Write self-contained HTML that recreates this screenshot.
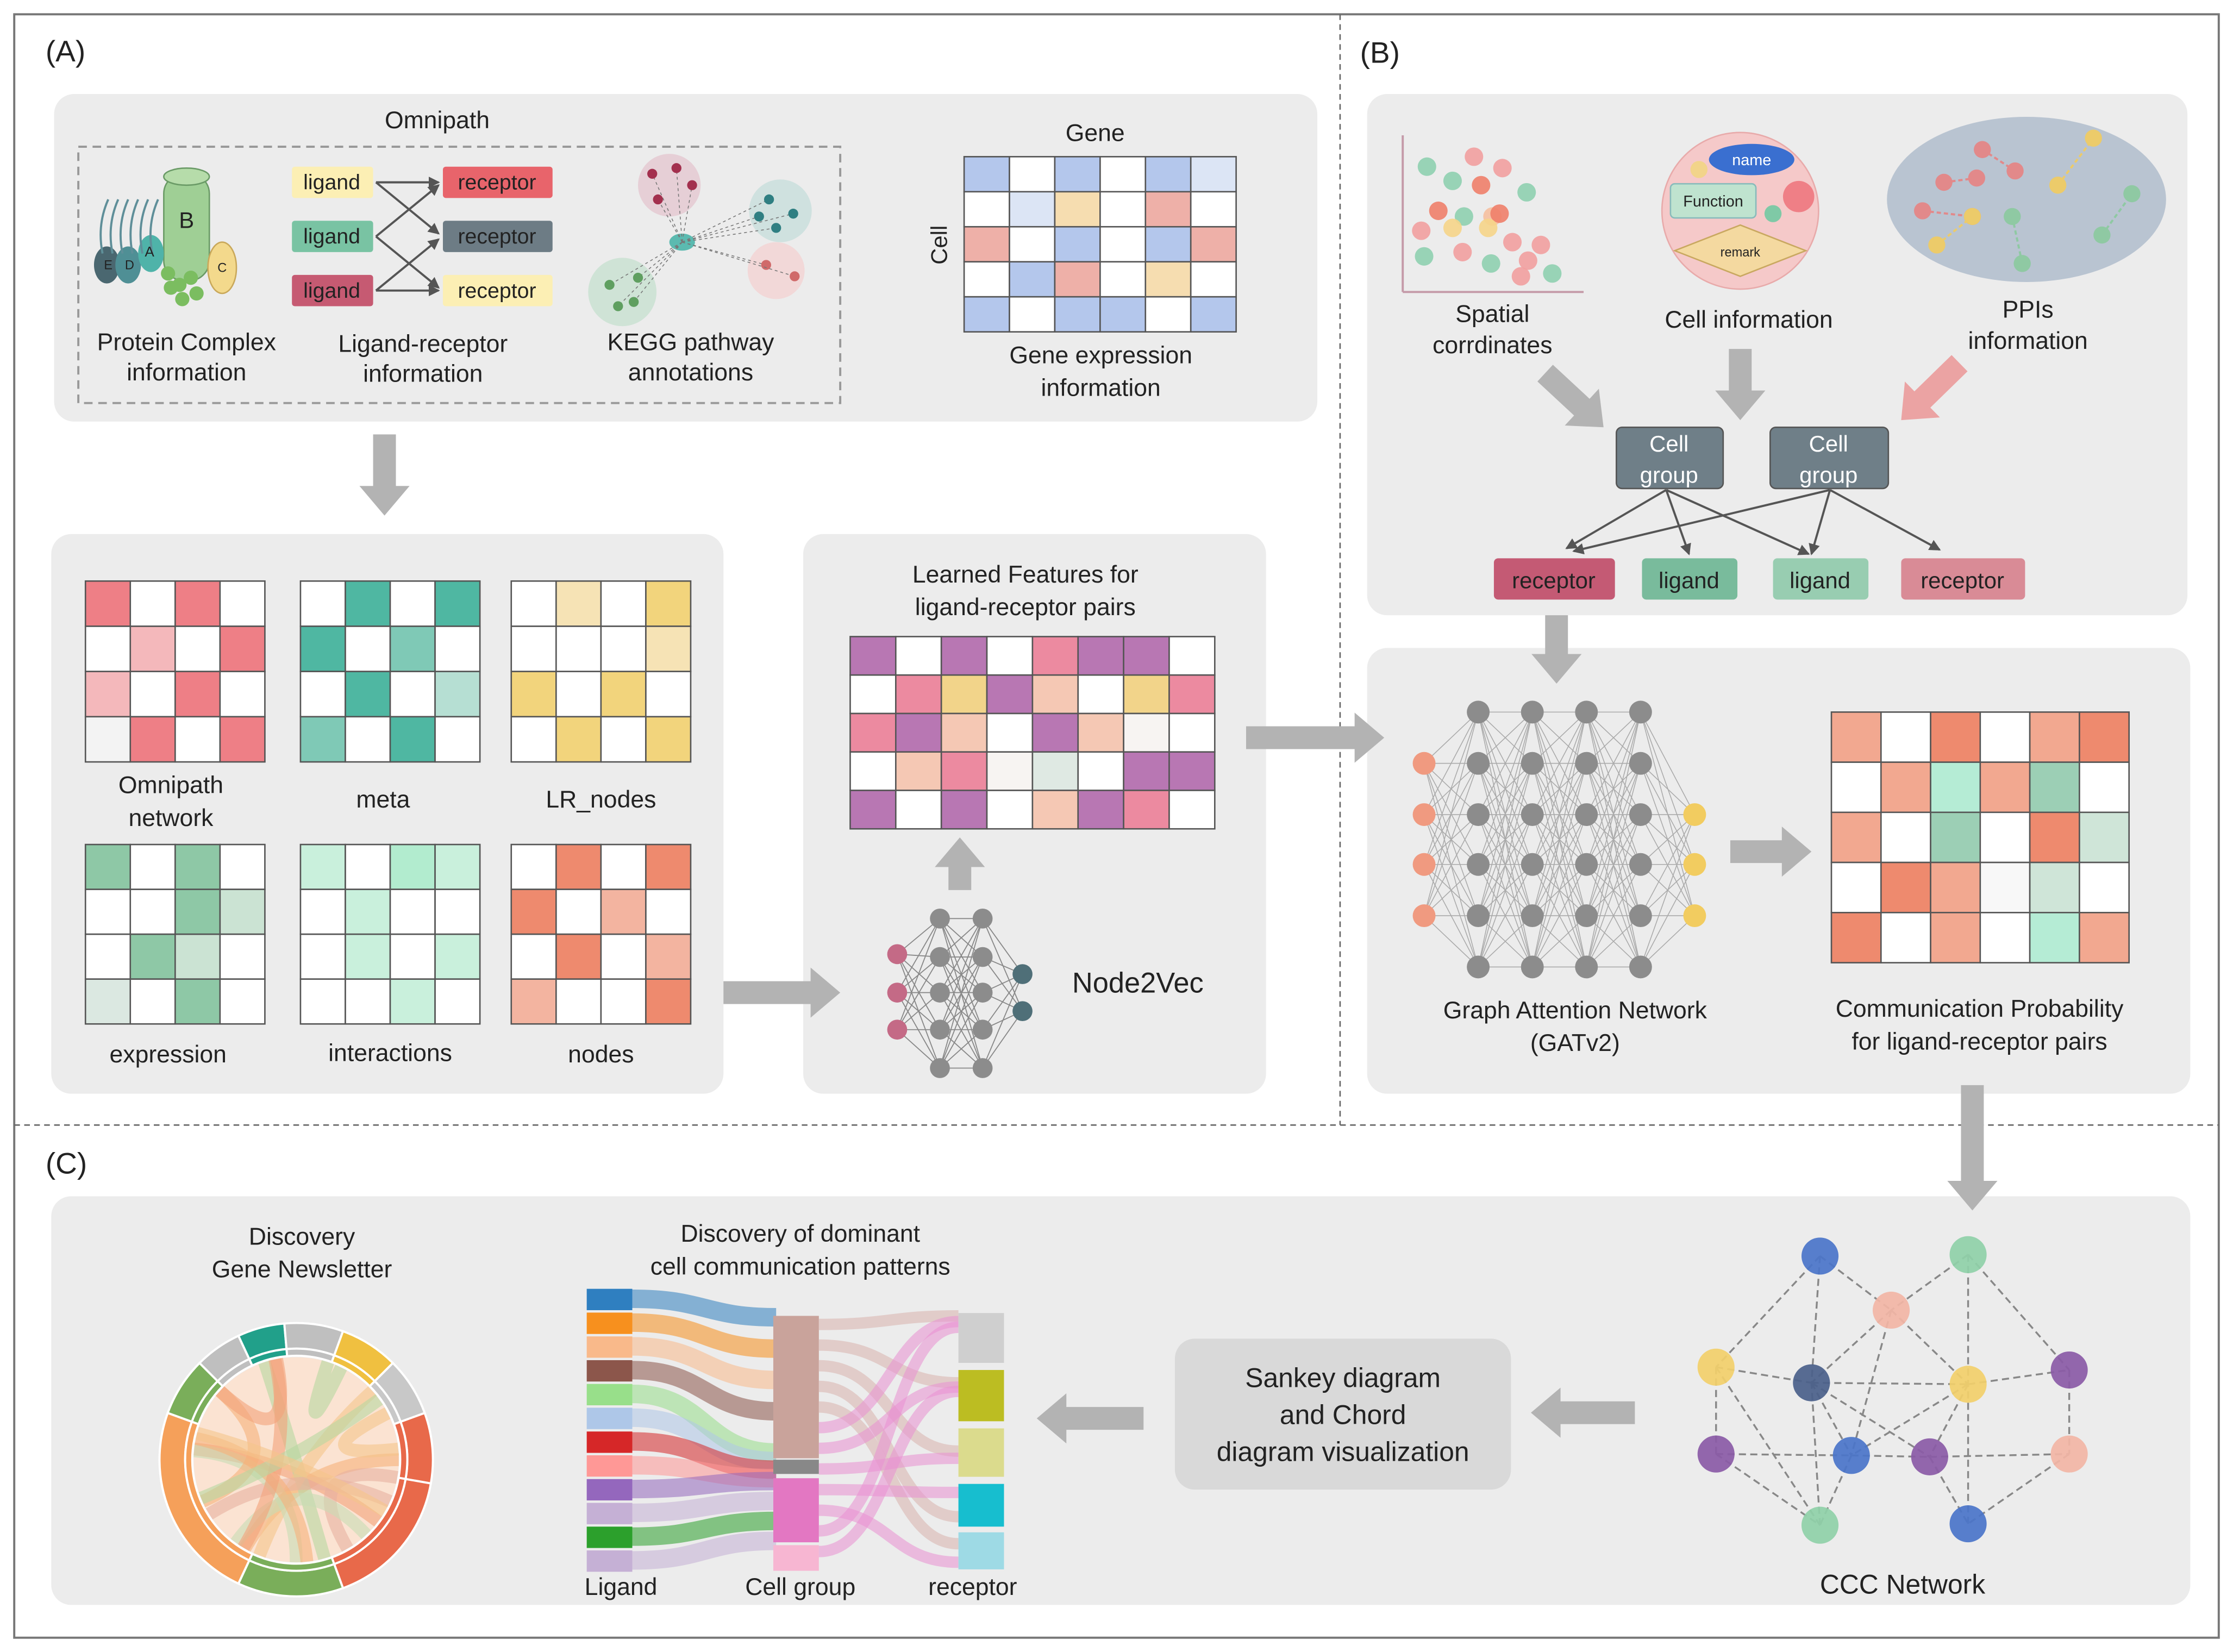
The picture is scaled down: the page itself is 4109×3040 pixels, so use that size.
<!DOCTYPE html>
<html><head><meta charset="utf-8"><style>
html,body{margin:0;padding:0;background:#fff}
svg{display:block}
text{font-family:"Liberation Sans",sans-serif;fill:#222}
</style></head><body>
<svg id="s" width="4109" height="3040" viewBox="0 0 1568 1160" xmlns="http://www.w3.org/2000/svg">
<defs>
<marker id="ah" markerWidth="8" markerHeight="8" refX="7" refY="4" orient="auto" markerUnits="userSpaceOnUse"><path d="M0,0 L8,4 L0,8 z" fill="#555"/></marker>
</defs>
<rect x="0" y="0" width="1568" height="1160" fill="#fff"/>
<rect x="10" y="10" width="1548" height="1140" fill="none" stroke="#777" stroke-width="1.5"/>
<line x1="941" y1="10" x2="941" y2="790" stroke="#666" stroke-dasharray="4,3"/>
<line x1="10" y1="790" x2="1558" y2="790" stroke="#666" stroke-dasharray="4,3"/>
<!-- boxes -->
<rect x="38" y="66" width="887" height="230" rx="14" fill="#ececec"/>
<rect x="36" y="375" width="472" height="393" rx="14" fill="#ececec"/>
<rect x="564" y="375" width="325" height="393" rx="14" fill="#ececec"/>
<rect x="960" y="66" width="576" height="366" rx="14" fill="#ececec"/>
<rect x="960" y="455" width="578" height="313" rx="14" fill="#ececec"/>
<rect x="36" y="840" width="1502" height="287" rx="14" fill="#ececec"/>
<rect x="55" y="103" width="535" height="180" fill="none" stroke="#999" stroke-width="1.5" stroke-dasharray="6,4"/>
<g id="g"></g>
<!-- text -->
<g font-size="21">
<text x="32" y="43">(A)</text><text x="955" y="44">(B)</text><text x="32" y="824">(C)</text>
</g>
<g font-size="17" text-anchor="middle">
<text x="307" y="90">Omnipath</text>
<text x="131" y="246">Protein Complex</text><text x="131" y="267">information</text>
<text x="297" y="247">Ligand-receptor</text><text x="297" y="268">information</text>
<text x="485" y="246">KEGG pathway</text><text x="485" y="267">annotations</text>
<text x="769" y="99">Gene</text>
<text x="773" y="255">Gene expression</text><text x="773" y="278">information</text>
<text x="120" y="557">Omnipath</text><text x="120" y="580">network</text>
<text x="269" y="567">meta</text><text x="422" y="567">LR_nodes</text>
<text x="118" y="746">expression</text><text x="274" y="745">interactions</text><text x="422" y="746">nodes</text>
<text x="720" y="409">Learned Features for</text><text x="720" y="432">ligand-receptor pairs</text>
<text x="1048" y="226">Spatial</text><text x="1048" y="248">corrdinates</text>
<text x="1228" y="230">Cell information</text>
<text x="1424" y="223">PPIs</text><text x="1424" y="245">information</text>
<text x="1106" y="715">Graph Attention Network</text><text x="1106" y="738">(GATv2)</text>
<text x="1390" y="714">Communication Probability</text><text x="1390" y="737">for ligand-receptor pairs</text>
<text x="212" y="874">Discovery</text><text x="212" y="897">Gene Newsletter</text>
<text x="562" y="872">Discovery of dominant</text><text x="562" y="895">cell communication patterns</text>
<text x="436" y="1120">Ligand</text><text x="562" y="1120">Cell group</text><text x="683" y="1120">receptor</text>
<text x="1336" y="1119" font-size="19">CCC Network</text>
</g>
<text x="799" y="697" font-size="20" text-anchor="middle">Node2Vec</text>
<text x="665" y="172" font-size="16" text-anchor="middle" transform="rotate(-90 665 172)">Cell</text>
<rect x="825" y="940" width="236" height="106" rx="14" fill="#d9d9d9"/>
<g font-size="19" text-anchor="middle"><text x="943" y="974">Sankey diagram</text><text x="943" y="1000">and Chord</text><text x="943" y="1026">diagram visualization</text></g>
<!-- cell groups and labels -->
<rect x="1135" y="300" width="75" height="43" rx="4" fill="#6f7f88" stroke="#555"/>
<rect x="1243" y="300" width="83" height="43" rx="4" fill="#6f7f88" stroke="#555"/>
<g font-size="16" text-anchor="middle" style="fill:#fff"><text x="1172" y="317" style="fill:#fff">Cell</text><text x="1172" y="339" style="fill:#fff">group</text><text x="1284" y="317" style="fill:#fff">Cell</text><text x="1284" y="339" style="fill:#fff">group</text></g>
<rect x="1049" y="392" width="85" height="29" rx="3" fill="#c45a74"/>
<rect x="1153" y="392" width="67" height="29" rx="3" fill="#79bb9c"/>
<rect x="1245" y="392" width="67" height="29" rx="3" fill="#98cdb1"/>
<rect x="1335" y="392" width="87" height="29" rx="3" fill="#d98b96"/>
<g font-size="16" text-anchor="middle"><text x="1091" y="413">receptor</text><text x="1186" y="413">ligand</text><text x="1278" y="413">ligand</text><text x="1378" y="413">receptor</text></g>
<g stroke="#555" stroke-width="1.5" marker-end="url(#ah)">
<line x1="1170" y1="344" x2="1100" y2="385"/><line x1="1170" y1="344" x2="1186" y2="389"/><line x1="1170" y1="344" x2="1270" y2="389"/>
<line x1="1285" y1="344" x2="1105" y2="387"/><line x1="1285" y1="344" x2="1272" y2="389"/><line x1="1285" y1="344" x2="1362" y2="386"/>
</g>
<!-- LR info -->
<rect x="205" y="117" width="57" height="22" rx="2" fill="#fcefb4"/>
<rect x="205" y="155" width="57" height="22" rx="2" fill="#79c3a3"/>
<rect x="205" y="193" width="57" height="22" rx="2" fill="#c65a72"/>
<rect x="311" y="117" width="77" height="22" rx="2" fill="#e8646b"/>
<rect x="311" y="155" width="77" height="22" rx="2" fill="#6d7c85"/>
<rect x="311" y="193" width="77" height="22" rx="2" fill="#fcefb4"/>
<g font-size="15" text-anchor="middle"><text x="233" y="133">ligand</text><text x="233" y="171">ligand</text><text x="233" y="209">ligand</text>
<text x="349" y="133">receptor</text><text x="349" y="171">receptor</text><text x="349" y="209">receptor</text></g>
<g stroke="#555" stroke-width="1.5" marker-end="url(#ah)">
<line x1="264" y1="128" x2="308" y2="128"/><line x1="264" y1="128" x2="308" y2="164"/>
<line x1="264" y1="166" x2="308" y2="130"/><line x1="264" y1="166" x2="308" y2="202"/>
<line x1="264" y1="204" x2="308" y2="168"/><line x1="264" y1="204" x2="308" y2="204"/>
</g>
<!-- Sankey label -->
</svg>
<script>
var NS="http://www.w3.org/2000/svg",G=document.getElementById("g");
function el(t,a){var e=document.createElementNS(NS,t);for(var k in a)e.setAttribute(k,a[k]);G.appendChild(e);return e;}
function grid(x,y,w,h,rows,C){var r=rows.length,c=rows[0].length,cw=w/c,ch=h/r;
 for(var i=0;i<r;i++)for(var j=0;j<c;j++)el("rect",{x:x+j*cw,y:y+i*ch,width:cw,height:ch,fill:C[rows[i][j]]||"#fff",stroke:"#555","stroke-width":1});}
function arrow(x1,y1,x2,y2,col,w){col=col||"#b3b3b3";w=w||16;var dx=x2-x1,dy=y2-y1,L=Math.hypot(dx,dy),ux=dx/L,uy=dy/L,px=-uy,py=ux,hl=w*1.3,hw=w*1.1;
 var bx=x2-ux*hl,by=y2-uy*hl,s=w/2;
 el("polygon",{points:[[x1+px*s,y1+py*s],[bx+px*s,by+py*s],[bx+px*hw,by+py*hw],[x2,y2],[bx-px*hw,by-py*hw],[bx-px*s,by-py*s],[x1-px*s,y1-py*s]].map(p=>p.join(",")).join(" "),fill:col});}
var C={R:"#ee7f86",P:"#f4b8bb",g:"#f3f3f3",T:"#4fb7a2",L:"#7fc9b6",S:"#b6dfd3",Y:"#f2d47c",y:"#f6e3b5",E:"#8ec8a6",e:"#cbe3d3",f:"#dbe8e1",I:"#c9f0dc",i:"#b2eccf",O:"#ee8a6e",o:"#f3b4a0"};
grid(60,408,126,127,["RWRW","WPWR","PWRW","gRWR"],C);
grid(211,408,126,127,["WTWT","TWLW","WTWS","LWTW"],C);
grid(359,408,126,127,["WyWY","WWWy","YWYW","WYWY"],C);
grid(60,593,126,126,["EWEW","WWEe","WEeW","fWEW"],C);
grid(211,593,126,126,["IWiI","WIWW","WIWI","WWIW"],C);
grid(359,593,126,126,["WOWO","OWoW","WOWo","oWWO"],C);
grid(677,110,191,123,["BWBWBp","WpYWkW","kWBWBk","WBkWYW","BWBBWB"],{B:"#b4c7ec",p:"#dce5f5",Y:"#f6ddb0",k:"#eeb0a8"});
grid(597,447,256,135,["UWUWKUUW","WKYUeWYK","KUeWUeGW","WeKGgWUU","UWUWeUKW"],{U:"#b877b3",K:"#ec8aa0",e:"#f5c8b4",Y:"#f2d48a",G:"#f7f4f2",g:"#dfe9e3"});
grid(1286,500,209,176,["SWOWSO","WSMSTW","SWTWOt","WOSGtW","OWSWMS"],{S:"#f2a890",O:"#ee8a6e",M:"#b5ecd5",T:"#9ccfb5",t:"#cfe5d8",G:"#f8f8f8"});
// arrows
arrow(270,305,270,362);arrow(508,697,590,697);arrow(674,625,674,588);arrow(875,518,972,518);
arrow(1215,598,1272,598);arrow(1385,762,1385,850);arrow(1093,432,1093,480);
arrow(1085,262,1126,300);arrow(1222,245,1222,295);arrow(1376,255,1335,295,"#eba3a3");
arrow(803,996,728,996);arrow(1148,992,1075,992);
// neural net B
var xs=[1000,1038,1076,1114,1152,1190],L=[];
for(var k=0;k<6;k++){var ys=k==0?[536,572,607,643]:k==5?[572,607,643]:[500,536,572,607,643,679];L.push(ys);}
for(var k=0;k<5;k++)L[k].forEach(a=>L[k+1].forEach(b=>el("line",{x1:xs[k],y1:a,x2:xs[k+1],y2:b,stroke:"#aaa","stroke-width":0.6})));
L.forEach((ys,k)=>ys.forEach(y=>el("circle",{cx:xs[k],cy:y,r:8,fill:k==0?"#f09a80":k==5?"#f2cc60":"#8c8c8c"})));
// node2vec
var nx=[630,660,690,718],N=[[670,697,723],[645,672,697,723,750],[645,672,697,723,750],[684,710]];
for(var k=0;k<3;k++)N[k].forEach(a=>N[k+1].forEach(b=>el("line",{x1:nx[k],y1:a,x2:nx[k+1],y2:b,stroke:"#888","stroke-width":0.7})));
N.forEach((ys,k)=>ys.forEach(y=>el("circle",{cx:nx[k],cy:y,r:7,fill:k==0?"#c46a86":k==3?"#4f6f78":"#8c8c8c"})));
// protein complex
el("rect",{x:115,y:122,width:32,height:75,rx:14,fill:"#9fcf95",stroke:"#6a9a66"});
el("ellipse",{cx:131,cy:124,rx:16,ry:6,fill:"#b6dcaa",stroke:"#6a9a66"});
el("ellipse",{cx:156,cy:188,rx:10,ry:18,fill:"#f3d98c",stroke:"#c9a85a"});
[[75,186,"#4a6770"],[90,186,"#4f8f95"],[106,178,"#4fb3a9"]].forEach(p=>el("ellipse",{cx:p[0],cy:p[1],rx:9,ry:13,fill:p[2]}));
[[118,192],[126,200],[134,195],[128,210],[138,206],[120,202]].forEach(p=>el("circle",{cx:p[0],cy:p[1],r:5,fill:"#7bbd60"}));
for(var i=0;i<6;i++)el("path",{d:"M"+(72+i*7)+",178 q-4,-20 4,-38",stroke:"#5f8f99",fill:"none","stroke-width":1.5});
var t=[[131,160,"B",16],[105,180,"A",10],[91,189,"D",9],[76,189,"E",9],[156,191,"C",9]];
t.forEach(a=>{var e=el("text",{x:a[0],y:a[1],"font-size":a[3],"text-anchor":"middle"});e.textContent=a[2];});
// KEGG
el("circle",{cx:470,cy:130,r:22,fill:"#e6cfd6"});el("circle",{cx:548,cy:148,r:22,fill:"#cfe1df"});
el("circle",{cx:437,cy:205,r:24,fill:"#cfe3d6"});el("circle",{cx:545,cy:190,r:20,fill:"#f2d8d8"});
el("ellipse",{cx:479,cy:170,rx:9,ry:6,fill:"#5bbab0"});
[[458,122,"#a3304e"],[475,118,"#a3304e"],[486,130,"#a3304e"],[462,140,"#a3304e"],[540,140,"#2f7f82"],[557,150,"#2f7f82"],[545,160,"#2f7f82"],[533,152,"#2f7f82"],[428,200,"#5f9f60"],[445,212,"#5f9f60"],[434,215,"#5f9f60"],[448,195,"#5f9f60"],[538,186,"#d06a6a"],[558,194,"#d06a6a"]].forEach(p=>{el("line",{x1:479,y1:170,x2:p[0],y2:p[1],stroke:"#777","stroke-width":0.6,"stroke-dasharray":"2,2"});el("circle",{cx:p[0],cy:p[1],r:3.5,fill:p[2]});});
// scatter
el("line",{x1:985,y1:205,x2:985,y2:95,stroke:"#c49aa8","stroke-width":1.5});el("line",{x1:985,y1:205,x2:1112,y2:205,stroke:"#c49aa8","stroke-width":1.5});
[[1002,117,"#8fd0b0"],[1020,127,"#8fd0b0"],[1035,110,"#f2a0a0"],[1055,118,"#f2a0a0"],[1040,130,"#ef7f6a"],[1072,135,"#8fd0b0"],[1010,148,"#f07f6a"],[1028,152,"#8fd0b0"],[1048,152,"#f6c0a0"],[1053,150,"#ef7f6a"],[1045,160,"#f6d58a"],[998,162,"#f2a0a0"],[1020,160,"#f6d58a"],[1062,170,"#f2a0a0"],[1082,172,"#f2a0a0"],[1000,180,"#8fd0b0"],[1027,177,"#f2a0a0"],[1047,185,"#8fd0b0"],[1073,183,"#f2a0a0"],[1090,192,"#8fd0b0"],[1068,194,"#f2a0a0"]].forEach(p=>el("circle",{cx:p[0],cy:p[1],r:6.5,fill:p[2],opacity:0.9}));
// cell info
el("circle",{cx:1222,cy:148,r:55,fill:"#f5c9c9",stroke:"#e8aaaa"});
el("ellipse",{cx:1230,cy:112,rx:30,ry:11,fill:"#3a6fd0"});
el("rect",{x:1173,y:129,width:60,height:24,rx:3,fill:"#bfe3cf",stroke:"#8bb"});
el("polygon",{points:"1222,158 1268,176 1222,194 1176,176",fill:"#f4d9a0",stroke:"#c9a860"});
el("circle",{cx:1193,cy:119,r:6,fill:"#f2d48a"});el("circle",{cx:1263,cy:138,r:11,fill:"#ef7f86"});el("circle",{cx:1245,cy:150,r:6,fill:"#7fc9a6"});
[[1230,116,"name",11,"#fff"],[1203,145,"Function",11,"#222"],[1222,180,"remark",9,"#222"]].forEach(a=>{var e=el("text",{x:a[1-1+0]===0?0:a[0],y:a[1],"font-size":a[3],"text-anchor":"middle",style:"fill:"+a[4]});e.textContent=a[2];});
// PPIs
el("ellipse",{cx:1423,cy:140,rx:98,ry:58,fill:"#b9c4d1"});
[[1350,148,1385,152,"#e2898a"],[1392,105,1415,120,"#e2898a"],[1388,125,1365,128,"#e2898a"],[1445,130,1470,97,"#eccb6a"],[1413,152,1420,185,"#8fc9a3"],[1476,165,1497,136,"#8fc9a3"],[1360,172,1385,152,"#eccb6a"]].forEach(p=>{el("line",{x1:p[0],y1:p[1],x2:p[2],y2:p[3],stroke:p[4],"stroke-width":1.5,"stroke-dasharray":"3,2"});el("circle",{cx:p[0],cy:p[1],r:6,fill:p[4]});el("circle",{cx:p[2],cy:p[3],r:6,fill:p[4]});});
// chord
var cx=208,cy=1025;
function arc(a0,a1,r0,r1,col){var f=a=>[cx+Math.cos(a*Math.PI/180)*1,cy+Math.sin(a*Math.PI/180)*1];
 var p=(a,r)=>(cx+r*Math.cos(a*Math.PI/180))+","+(cy+r*Math.sin(a*Math.PI/180));var lg=(a1-a0)>180?1:0;
 el("path",{d:"M"+p(a0,r1)+" A"+r1+","+r1+" 0 "+lg+" 1 "+p(a1,r1)+" L"+p(a1,r0)+" A"+r0+","+r0+" 0 "+lg+" 0 "+p(a0,r0)+"Z",fill:col,stroke:"#fff","stroke-width":1.5});}
var segs=[[-20,10,"#e8694a"],[10,70,"#e8694a"],[70,115,"#7aae5a"],[115,200,"#f5a05a"],[200,225,"#7aae5a"],[225,245,"#bfbfbf"],[245,265,"#21a08a"],[265,290,"#bfbfbf"],[290,315,"#f0c040"],[315,340,"#c8c8c8"]];
segs.forEach(s=>arc(s[0],s[1],78,96,s[2]));
segs.forEach(s=>arc(s[0],s[1],73,78,s[2]));
el("circle",{cx:cx,cy:cy,r:72,fill:"#fbe3d2"});
var pal=["#f6b07a","#f3a27a","#b7d7a0","#f5c48a","#e7b0a0","#c8dcb4"];
for(var i=0;i<16;i++){var a=i*37%360,b=(a+120+i*29)%360,r=72,P=(x)=>(cx+r*Math.cos(x*Math.PI/180))+","+(cy+r*Math.sin(x*Math.PI/180));
 el("path",{d:"M"+P(a)+" Q"+cx+","+cy+" "+P(b),stroke:pal[i%6],"stroke-width":9,fill:"none",opacity:0.6});}
// sankey
var lc=["#2f7fc0","#f7901e","#f9b98a","#8c564b","#98df8a","#aec7e8","#d62728","#ff9896","#9467bd","#c5b0d5","#2ca02c","#c5b0d5"];
var rc=[["#cfcfcf",922,957],["#bcbd22",962,998],["#dbdb8d",1003,1037],["#17becf",1042,1072],["#9edae5",1076,1102]];
var lh=17,ly=905;
lc.forEach((c,i)=>{var y=ly+i*16.7;el("rect",{x:412,y:y,width:32,height:15,fill:c});
 var ty=i<4?925+i*22:i<8?1020+(i-4)*6:1040+(i-8)*14;
 el("path",{d:"M444,"+(y+7)+" C495,"+(y+7)+" 495,"+ty+" 545,"+ty,stroke:c,"stroke-width":13,fill:"none",opacity:0.55});});
el("rect",{x:543,y:924,width:32,height:100,fill:"#c9a39b"});el("rect",{x:543,y:1025,width:32,height:10,fill:"#888"});
el("rect",{x:543,y:1038,width:32,height:45,fill:"#e377c2"});el("rect",{x:543,y:1085,width:32,height:18,fill:"#f7b6d2"});
for(var i=0;i<12;i++){var y1=930+i*14.5,j=i%5,y2=rc[j][1]+(i*7)%((rc[j][2]-rc[j][1])-4)+2;
 el("path",{d:"M575,"+y1+" C625,"+y1+" 625,"+y2+" 673,"+y2,stroke:i<5?"#d9b3ad":"#ea8fd2","stroke-width":8,fill:"none",opacity:0.55});}
rc.forEach(r=>el("rect",{x:673,y:r[1],width:32,height:r[2]-r[1],fill:r[0]}));
// CCC network
var cn=[[1278,882,"#4a74c9"],[1382,881,"#8fd0a8"],[1328,920,"#f2b5a5"],[1205,960,"#f2cf6a"],[1272,971,"#4a5f8a"],[1382,972,"#f2cf6a"],[1453,962,"#8a5aa6"],[1205,1021,"#8a5aa6"],[1300,1022,"#4a74c9"],[1355,1023,"#8a5aa6"],[1453,1021,"#f2b5a5"],[1278,1071,"#8fd0a8"],[1382,1070,"#4a74c9"]];
var ed=[[0,2],[1,2],[0,4],[1,5],[2,4],[2,5],[3,4],[4,5],[5,6],[3,7],[4,8],[5,9],[6,10],[7,8],[8,9],[9,10],[8,11],[9,12],[11,4],[12,5],[3,11],[10,12],[0,3],[1,6],[7,11],[2,8],[4,9],[5,8]];
ed.forEach(e=>{var a=cn[e[0]],b=cn[e[1]];el("line",{x1:a[0],y1:a[1],x2:b[0],y2:b[1],stroke:"#888","stroke-width":1.3,"stroke-dasharray":"5,3"});});
cn.forEach(n=>el("circle",{cx:n[0],cy:n[1],r:13,fill:n[2],opacity:0.92}));
</script>
</body></html>
